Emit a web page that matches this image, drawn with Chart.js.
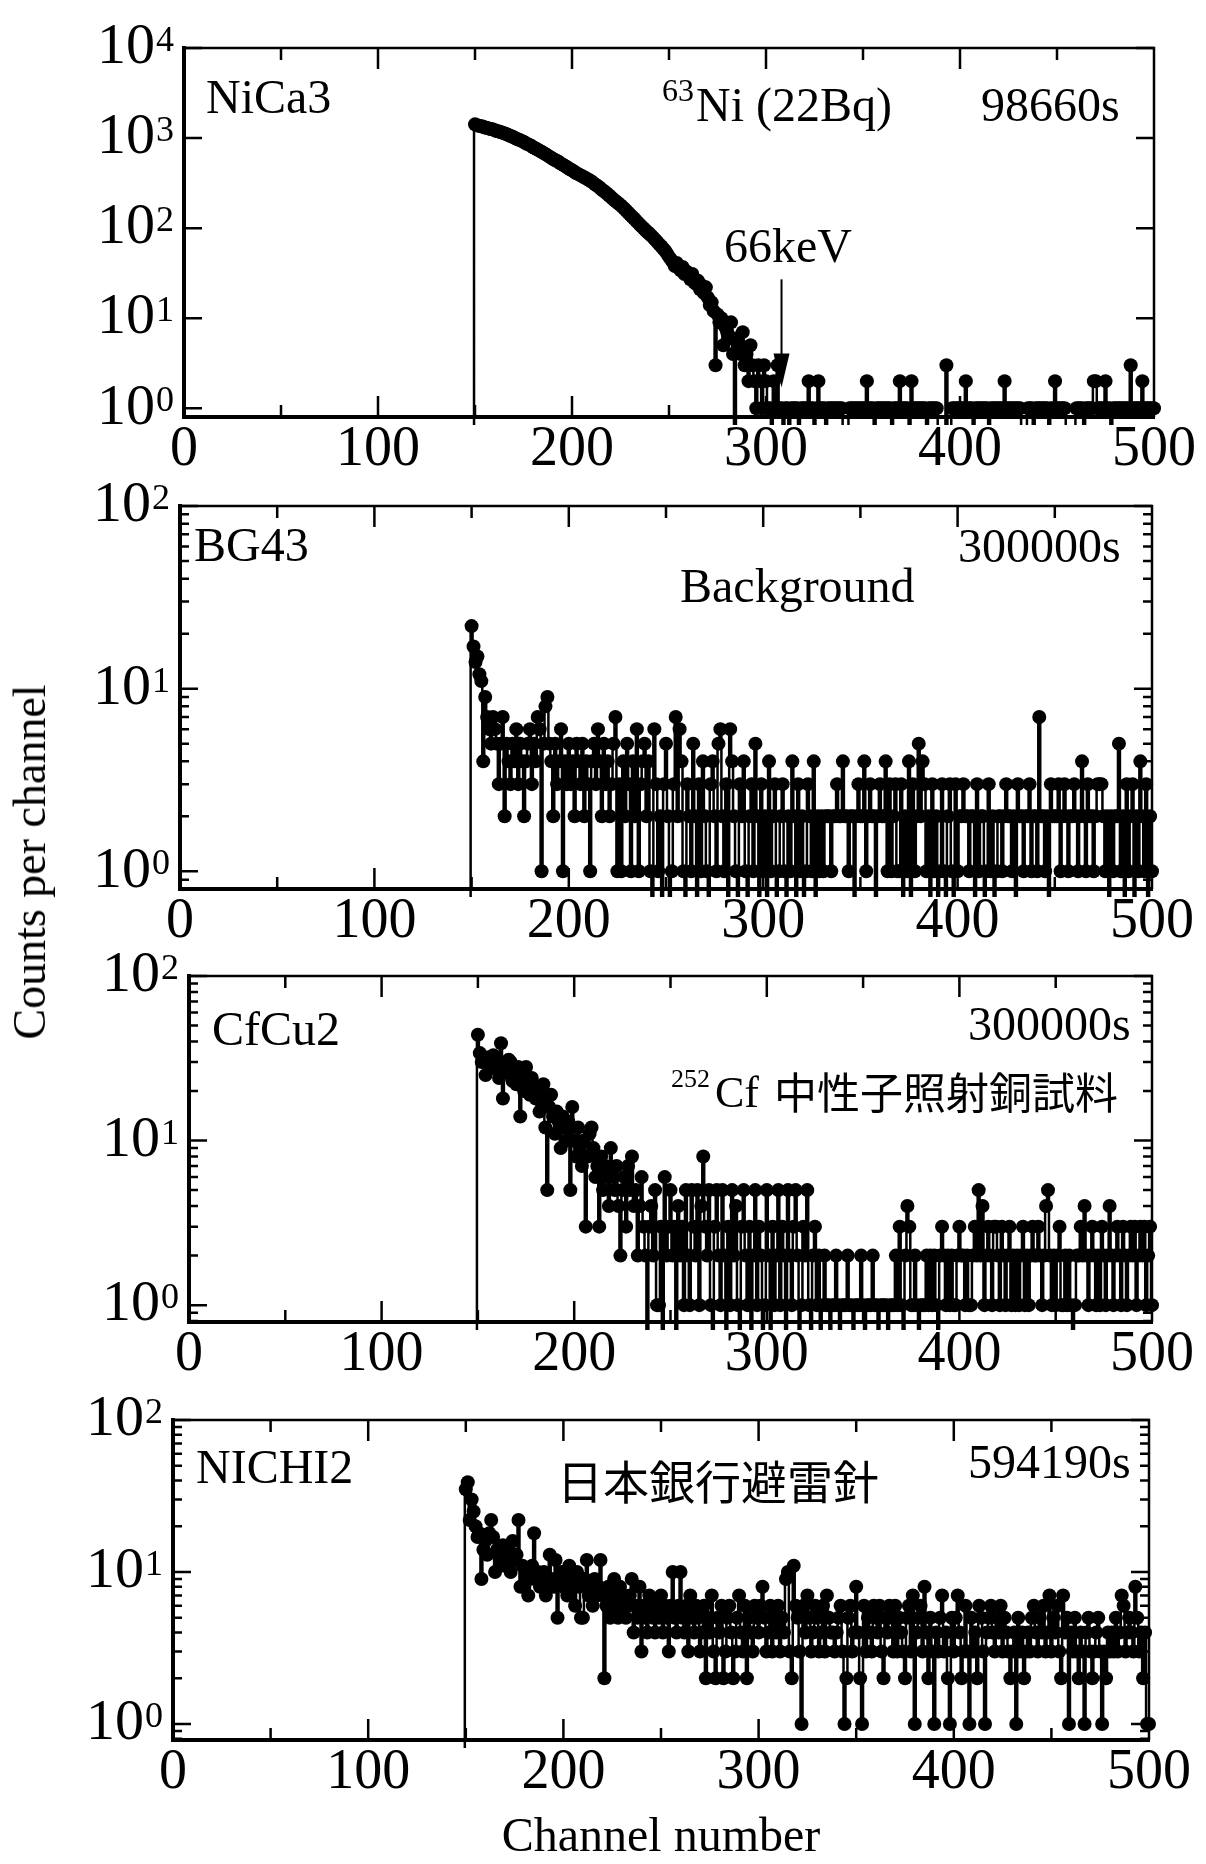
<!DOCTYPE html>
<html>
<head>
<meta charset="utf-8">
<script src="https://cdn.jsdelivr.net/npm/chart.js@4"></script>
<style>
  body { margin: 0; background: #fff; }
  #page { position: relative; width: 1206px; height: 1864px; overflow: hidden; background: #fff; }
  canvas { position: absolute; left: 0; }
  .title { position: absolute; color: #000; white-space: nowrap; font-family: "Liberation Serif", serif; }
  #xtitle { left: 661px; top: 1811px; font-size: 48px; line-height: 48px; transform: translateX(-50%); }
  #ytitle { left: 30px; top: 862px; font-size: 46px; line-height: 46px; transform: translate(-50%, -50%) rotate(-90deg); }
</style>
</head>
<body>
<div id="page">
  <canvas id="p1"></canvas>
  <canvas id="p2"></canvas>
  <canvas id="p3"></canvas>
  <canvas id="p4"></canvas>
  <div class="title" id="xtitle">Channel number</div>
  <div class="title" id="ytitle">Counts per channel</div>
</div>
<script>
// channel of the first entry in every counts array (149 is below threshold = 0)
const firstChannel = 149;
const xTickLabels = [0, 100, 200, 300, 400, 500];

// NiCa3 : 63Ni (22Bq), 98660 s
const nica3Counts = [0,
  1420, 1390, 1370, 1350, 1340, 1310, 1300, 1280, 1260, 1250,
  1230, 1200, 1190, 1170, 1150, 1130, 1110, 1090, 1060, 1040,
  1020, 990, 970, 950, 930, 910, 880, 860, 840, 820,
  790, 770, 750, 730, 710, 690, 670, 650, 630, 610,
  590, 575, 560, 545, 525, 510, 495, 480, 465, 450,
  440, 425, 410, 400, 390, 380, 370, 360, 350, 340,
  330, 318, 305, 295, 285, 272, 262, 252, 242, 232,
  222, 212, 203, 195, 188, 180, 172, 164, 156, 148,
  141, 134, 128, 121, 115, 109, 104, 99, 94, 90,
  86, 82, 78, 74, 70, 66, 63, 59, 56, 52,
  48, 45, 42, 38, 41, 36, 34, 37, 31, 33,
  30, 27, 31, 25, 24, 26, 21, 23, 19, 22,
  17, 14, 15, 12, 3, 11, 9, 10, 5, 8,
  7, 6, 9, 4, 0, 6, 5, 4, 7, 3,
  4, 2, 5, 3, 2, 1, 3, 2, 1, 3,
  2, 1, 1, 0, 2, 1, 3, 1, 1, 0,
  1, 1, 0, 1, 1, 1, 1, 0, 1, 1,
  1, 1, 2, 1, 1, 0, 1, 2, 1, 1,
  1, 0, 1, 1, 1, 1, 1, 1, 1, 1,
  0, 0, 0, 1, 1, 1, 1, 1, 1, 1,
  1, 1, 2, 1, 1, 1, 0, 1, 1, 1,
  1, 1, 1, 1, 1, 0, 1, 1, 1, 2,
  1, 1, 1, 1, 0, 2, 1, 1, 1, 1,
  1, 1, 1, 0, 1, 1, 1, 1, 1, 0,
  0, 0, 0, 3, 0, 0, 1, 1, 1, 1,
  1, 1, 1, 2, 1, 1, 1, 0, 1, 1,
  1, 1, 1, 1, 1, 0, 1, 1, 1, 1,
  1, 1, 1, 2, 1, 1, 1, 1, 1, 1,
  1, 1, 0, 0, 0, 1, 1, 1, 0, 1,
  1, 1, 1, 1, 1, 1, 0, 1, 1, 2,
  1, 1, 1, 1, 1, 0, 0, 0, 0, 0,
  1, 1, 1, 1, 0, 1, 1, 1, 1, 2,
  2, 1, 1, 1, 1, 2, 1, 1, 0, 1,
  1, 1, 1, 1, 1, 1, 1, 1, 3, 1,
  1, 1, 1, 1, 2, 1, 1, 1, 1, 1,
  1];

// BG43 : background, 300000 s
const bg43Counts = [0,
  22, 17, 14, 15, 12, 11, 4, 9, 7, 6,
  5, 7, 6, 5, 3, 5, 7, 2, 5, 4,
  3, 5, 4, 6, 3, 5, 4, 2, 4, 5,
  6, 3, 5, 4, 7, 6, 1, 5, 8, 9,
  5, 4, 2, 5, 3, 4, 6, 1, 4, 3,
  5, 3, 4, 2, 5, 4, 3, 5, 2, 4,
  3, 1, 4, 5, 3, 6, 4, 2, 5, 3,
  4, 2, 3, 5, 7, 1, 3, 1, 4, 2,
  5, 3, 1, 4, 2, 6, 1, 3, 4, 5,
  2, 4, 1, 0, 6, 3, 1, 2, 0, 3,
  5, 2, 0, 1, 3, 7, 2, 6, 4, 1,
  0, 3, 2, 1, 5, 2, 0, 3, 1, 4,
  2, 1, 0, 3, 4, 2, 1, 5, 6, 2,
  1, 3, 0, 6, 4, 2, 1, 0, 3, 2,
  4, 1, 0, 2, 3, 1, 5, 2, 0, 3,
  1, 2, 0, 4, 1, 2, 3, 0, 1, 2,
  3, 1, 0, 2, 1, 4, 2, 0, 3, 1,
  2, 0, 1, 3, 2, 1, 4, 0, 2, 1,
  2, 1, 2, 2, 2, 1, 2, 2, 3, 2,
  2, 4, 2, 2, 1, 2, 2, 0, 2, 3,
  2, 2, 4, 1, 2, 3, 2, 2, 0, 2,
  3, 2, 2, 4, 1, 3, 1, 2, 3, 1,
  1, 3, 0, 2, 1, 4, 0, 3, 1, 2,
  5, 2, 4, 3, 1, 2, 0, 3, 1, 2,
  0, 1, 3, 1, 0, 2, 3, 1, 0, 3,
  1, 2, 2, 3, 2, 2, 1, 2, 2, 0,
  3, 1, 2, 2, 0, 1, 3, 1, 2, 0,
  1, 2, 2, 1, 2, 3, 2, 2, 1, 2,
  0, 3, 2, 2, 1, 2, 2, 3, 1, 2,
  2, 1, 7, 2, 2, 1, 2, 0, 3, 2,
  2, 2, 3, 1, 2, 3, 2, 1, 2, 2,
  3, 2, 1, 2, 4, 2, 1, 3, 2, 2,
  1, 2, 3, 3, 3, 2, 1, 2, 0, 2,
  1, 2, 2, 5, 1, 2, 0, 3, 1, 2,
  3, 0, 2, 1, 4, 2, 1, 3, 0, 2,
  1];

// CfCu2 : 252Cf neutron irradiated copper, 300000 s
const cfcu2Counts = [0,
  44, 34, 30, 31, 25, 32, 30, 28, 33, 30,
  27, 24, 39, 18, 29, 26, 31, 30, 23, 25,
  22, 28, 14, 24, 20, 28, 22, 19, 24, 21,
  18, 20, 15, 17, 22, 12, 5, 16, 19, 14,
  11, 15, 13, 9, 14, 12, 10, 13, 5, 16,
  10, 8, 12, 9, 7, 10, 3, 8, 11, 12,
  9, 6, 7, 3, 8, 5, 7, 6, 4, 9,
  6, 5, 7, 4, 2, 5, 6, 3, 7, 5,
  8, 4, 5, 2, 4, 6, 3, 2, 0, 3,
  4, 2, 5, 1, 1, 3, 0, 6, 2, 3,
  5, 2, 3, 0, 4, 2, 3, 1, 5, 2,
  1, 5, 3, 2, 5, 1, 4, 8, 3, 2,
  5, 1, 0, 3, 5, 2, 1, 5, 2, 0,
  3, 1, 5, 2, 4, 1, 0, 3, 5, 2,
  1, 3, 0, 2, 5, 1, 3, 2, 0, 1,
  5, 2, 0, 3, 1, 2, 5, 1, 3, 2,
  0, 5, 2, 1, 3, 5, 2, 0, 1, 3,
  2, 5, 1, 0, 2, 3, 1, 2, 0, 1,
  2, 1, 1, 0, 1, 1, 2, 1, 0, 1,
  1, 1, 2, 1, 1, 0, 1, 1, 1, 2,
  1, 0, 1, 1, 1, 2, 1, 1, 0, 1,
  1, 1, 1, 0, 1, 1, 1, 2, 1, 3,
  1, 0, 2, 4, 3, 1, 1, 2, 1, 0,
  1, 1, 1, 2, 1, 2, 1, 2, 1, 0,
  2, 3, 2, 1, 2, 1, 2, 1, 1, 2,
  3, 2, 2, 1, 2, 1, 1, 2, 3, 2,
  5, 2, 4, 1, 2, 3, 2, 1, 3, 3,
  2, 1, 3, 2, 1, 2, 3, 1, 2, 1,
  2, 1, 2, 3, 1, 2, 1, 2, 3, 2,
  2, 3, 2, 1, 2, 4, 5, 2, 1, 2,
  1, 2, 3, 1, 1, 2, 1, 2, 1, 0,
  1, 2, 2, 3, 2, 4, 2, 1, 2, 3,
  2, 1, 2, 1, 3, 2, 1, 2, 4, 2,
  1, 2, 3, 2, 1, 3, 2, 1, 2, 3,
  2, 3, 1, 2, 3, 2, 3, 1, 2, 3,
  1];

// NICHI2 : Bank of Japan lightning rod, 594190 s
const nichi2Counts = [0,
  35, 39, 22, 30, 25, 20, 17, 18, 9, 14,
  16, 13, 18, 22, 17, 10, 14, 13, 12, 15,
  11, 13, 14, 10, 16, 12, 13, 22, 8, 11,
  8, 10, 7, 9, 11, 18, 9, 10, 8, 9,
  10, 7, 8, 13, 9, 8, 12, 5, 9, 10,
  8, 9, 7, 11, 8, 9, 6, 10, 8, 5,
  5, 9, 12, 7, 8, 6, 9, 7, 8, 12,
  7, 2, 6, 8, 5, 7, 9, 6, 5, 8,
  6, 7, 5, 6, 7, 9, 4, 6, 5, 8,
  3, 6, 5, 4, 7, 6, 5, 4, 6, 5,
  7, 4, 6, 5, 3, 6, 10, 5, 4, 6,
  10, 5, 4, 6, 3, 7, 5, 4, 6, 5,
  3, 4, 6, 2, 5, 4, 7, 3, 2, 5,
  4, 6, 2, 3, 5, 6, 4, 2, 3, 5,
  7, 4, 3, 6, 2, 5, 4, 3, 6, 5,
  4, 6, 8, 5, 3, 4, 6, 3, 5, 4,
  6, 3, 5, 4, 9, 10, 3, 2, 11, 6,
  5, 3, 1, 6, 4, 7, 5, 3, 4, 6,
  5, 3, 4, 6, 3, 7, 5, 4, 4, 3,
  4, 5, 6, 3, 1, 2, 5, 6, 3, 4,
  8, 4, 2, 1, 6, 3, 5, 4, 3, 6,
  5, 4, 6, 3, 2, 5, 4, 6, 5, 3,
  6, 3, 5, 4, 3, 2, 5, 6, 3, 7,
  1, 4, 5, 6, 3, 8, 4, 2, 5, 3,
  1, 4, 3, 5, 7, 3, 4, 2, 1, 5,
  3, 5, 7, 4, 2, 3, 6, 3, 1, 5,
  3, 4, 2, 6, 5, 3, 1, 4, 5, 6,
  4, 3, 5, 4, 6, 3, 5, 4, 3, 2,
  3, 4, 1, 5, 3, 4, 2, 3, 4, 3,
  5, 6, 4, 3, 5, 4, 6, 3, 4, 7,
  3, 5, 4, 6, 3, 2, 7, 4, 5, 1,
  4, 3, 5, 3, 2, 4, 3, 1, 4, 5,
  3, 2, 3, 4, 5, 3, 1, 3, 2, 4,
  3, 4, 3, 5, 3, 4, 7, 6, 3, 4,
  5, 4, 3, 8, 5, 3, 4, 2, 4, 1,
  1];

const serif = '"Liberation Serif", "Times New Roman", serif';
const cjk = '"Noto Sans CJK JP", "Noto Sans CJK SC", sans-serif';

// page layout: canvas top, plot area [left, top, right, bottom] in page pixels
const panels = [
  {
    id: 'p1', counts: nica3Counts, top: 0, area: [184, 48, 1154, 417],
    yMin: 0.8, yMax: 1e4, minor: false,
    notes: [
      ['NiCa3', 206, 113, 48],
      ['63', 662, 101, 32],
      ['Ni (22Bq)', 696, 121, 48],
      ['98660s', 981, 121, 48],
      ['66keV', 724, 262, 48]
    ],
    arrow: { channel: 308, from: 27, to: 1.7 }
  },
  {
    id: 'p2', counts: bg43Counts, top: 460, area: [180, 506, 1152, 889],
    yMin: 0.8, yMax: 100, minor: true,
    notes: [
      ['BG43', 194, 561, 48],
      ['300000s', 958, 562, 48],
      ['Background', 680, 602, 48]
    ]
  },
  {
    id: 'p3', counts: cfcu2Counts, top: 930, area: [189, 976, 1152, 1322],
    yMin: 0.79, yMax: 100, minor: true,
    notes: [
      ['CfCu2', 212, 1045, 48],
      ['300000s', 968, 1040, 48],
      ['252', 671, 1087, 26],
      ['Cf', 715, 1107, 44],
      ['中性子照射銅試料', 774, 1109, 43, cjk]
    ]
  },
  {
    id: 'p4', counts: nichi2Counts, top: 1373, area: [173, 1420, 1149, 1740],
    yMin: 0.785, yMax: 100, minor: true,
    notes: [
      ['NICHI2', 196, 1483, 48],
      ['594190s', 968, 1478, 48],
      ['日本銀行避雷針', 557, 1499, 46, cjk]
    ]
  }
];

const X_AXIS_HEIGHT = 70;
const ZERO_DRAW = 0.2; // zero counts fall below the log axis

// frame, inward ticks, 10^n labels, annotations
const framePlugin = {
  id: 'frame',
  afterDraw(chart, args, opts) {
    const { ctx, chartArea: a, scales: { x, y } } = chart;
    ctx.save();
    ctx.strokeStyle = '#000';
    ctx.fillStyle = '#000';

    ctx.lineWidth = 2.5;
    ctx.beginPath();
    ctx.moveTo(a.left, a.top);
    ctx.lineTo(a.right, a.top);
    ctx.lineTo(a.right, a.bottom);
    ctx.stroke();

    ctx.lineWidth = 2.5;
    ctx.beginPath();
    for (let v = 50; v < 500; v += 50) {
      const px = x.getPixelForValue(v);
      const len = v % 100 === 0 ? 21 : 12;
      ctx.moveTo(px, a.bottom);
      ctx.lineTo(px, a.bottom - len);
      ctx.moveTo(px, a.top);
      ctx.lineTo(px, a.top + len);
    }
    const lo = Math.floor(Math.log10(opts.yMin));
    const hi = Math.round(Math.log10(opts.yMax));
    for (let e = lo; e <= hi; e++) {
      for (let k = 1; k <= 9; k++) {
        const v = k * Math.pow(10, e);
        if (v < opts.yMin || v > opts.yMax) continue;
        if (k > 1 && !opts.minor) continue;
        const py = y.getPixelForValue(v);
        const len = k === 1 ? 18 : 9;
        ctx.moveTo(a.left, py);
        ctx.lineTo(a.left + len, py);
        ctx.moveTo(a.right, py);
        ctx.lineTo(a.right - len, py);
      }
    }
    ctx.stroke();

    // y tick labels 10^n
    for (let e = 0; e <= hi; e++) {
      const py = y.getPixelForValue(Math.pow(10, e));
      const right = a.left - 10;
      ctx.font = '36px ' + serif;
      const supW = ctx.measureText(String(e)).width;
      ctx.textAlign = 'left';
      ctx.textBaseline = 'alphabetic';
      ctx.fillText(String(e), right - supW, py + 3);
      ctx.font = '58px ' + serif;
      ctx.textAlign = 'right';
      ctx.textBaseline = 'middle';
      ctx.fillText('10', right - supW - 1, py);
    }

    // annotations
    ctx.textAlign = 'left';
    ctx.textBaseline = 'alphabetic';
    opts.notes.forEach(([text, nx, ny, size, family]) => {
      ctx.font = size + 'px ' + (family || serif);
      ctx.fillText(text, nx, ny - opts.top);
    });

    if (opts.arrow) {
      const ax = x.getPixelForValue(opts.arrow.channel);
      const y0 = y.getPixelForValue(opts.arrow.from);
      const y1 = y.getPixelForValue(opts.arrow.to);
      ctx.lineWidth = 2;
      ctx.beginPath();
      ctx.moveTo(ax, y0);
      ctx.lineTo(ax, y1 - 30);
      ctx.stroke();
      ctx.beginPath();
      ctx.moveTo(ax - 8, y1 - 34);
      ctx.lineTo(ax + 8, y1 - 34);
      ctx.lineTo(ax, y1);
      ctx.closePath();
      ctx.fill();
    }
    ctx.restore();
  }
};

panels.forEach(p => {
  const [left, top, right, bottom] = p.area;
  const canvas = document.getElementById(p.id);
  const height = bottom - p.top + X_AXIS_HEIGHT;
  canvas.width = 1206;
  canvas.height = height;
  canvas.style.top = p.top + 'px';

  const points = p.counts.map((c, i) => ({ x: firstChannel + i, y: c > 0 ? c : ZERO_DRAW }));

  new Chart(canvas, {
    type: 'line',
    data: {
      datasets: [{
        data: points,
        stepped: 'middle',
        borderColor: '#000',
        borderWidth: 2.5,
        pointRadius: 7,
        pointBackgroundColor: '#000',
        pointBorderWidth: 0,
        clip: 8
      }]
    },
    options: {
      responsive: false,
      animation: false,
      events: [],
      layout: { padding: { left: left, right: 1206 - right, top: top - p.top, bottom: 0 } },
      plugins: {
        legend: { display: false },
        tooltip: { enabled: false },
        frame: { yMin: p.yMin, yMax: p.yMax, minor: p.minor, notes: p.notes, arrow: p.arrow, top: p.top }
      },
      scales: {
        x: {
          type: 'linear',
          min: 0,
          max: 500,
          afterBuildTicks: s => { s.ticks = xTickLabels.map(v => ({ value: v })); },
          ticks: { color: '#000', font: { family: serif, size: 56 }, padding: 0, maxRotation: 0, autoSkip: false },
          grid: { display: false, drawTicks: false },
          border: { color: '#000', width: 4 },
          afterFit: s => { s.height = X_AXIS_HEIGHT; }
        },
        y: {
          type: 'logarithmic',
          min: p.yMin,
          max: p.yMax,
          ticks: { display: false },
          grid: { display: false, drawTicks: false },
          border: { color: '#000', width: 4 },
          afterFit: s => { s.width = 0; }
        }
      }
    },
    plugins: [framePlugin]
  });
});
</script>
</body>
</html>
